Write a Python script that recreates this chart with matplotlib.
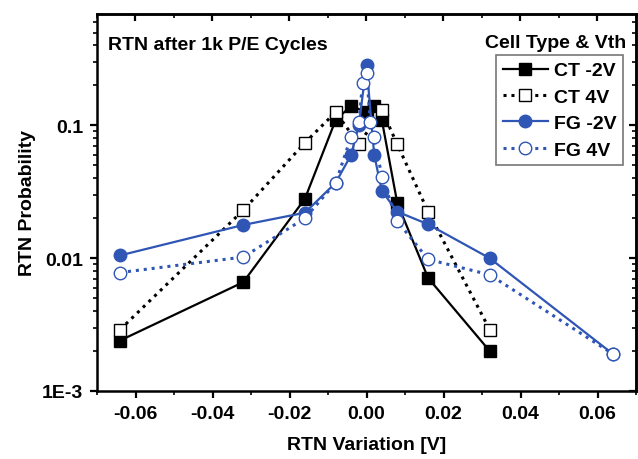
import matplotlib
matplotlib.use("Agg")
import matplotlib.pyplot as plt
from matplotlib.ticker import FixedLocator, LogLocator, NullFormatter

plt.rcParams['font.family'] = ['Liberation Sans', 'DejaVu Sans']
plt.rcParams['font.weight'] = 'bold'

# RTN variation [V] and probability for each cell type / Vth
ct_m2_x = [-0.064, -0.032, -0.016, -0.008, -0.004, 0.0, 0.002, 0.004, 0.008, 0.016, 0.032]
ct_m2_y = [0.0024, 0.0066, 0.028, 0.11, 0.14, 0.126, 0.14, 0.109, 0.026, 0.0071, 0.0020]

ct_4_x = [-0.064, -0.032, -0.016, -0.008, -0.002, 0.004, 0.008, 0.016, 0.032]
ct_4_y = [0.0029, 0.023, 0.074, 0.126, 0.072, 0.13, 0.072, 0.0224, 0.0029]

fg_m2_x = [-0.064, -0.032, -0.016, -0.008, -0.004, -0.002, 0.0, 0.002, 0.004, 0.008, 0.016, 0.032, 0.064]
fg_m2_y = [0.0105, 0.0178, 0.022, 0.037, 0.060, 0.10, 0.285, 0.060, 0.032, 0.0224, 0.018, 0.0100, 0.0019]

fg_4_x = [-0.064, -0.032, -0.016, -0.008, -0.004, -0.002, -0.001, 0.0, 0.001, 0.002, 0.004, 0.008, 0.016, 0.032, 0.064]
fg_4_y = [0.0078, 0.0102, 0.020, 0.037, 0.082, 0.106, 0.21, 0.25, 0.106, 0.082, 0.041, 0.019, 0.0098, 0.0075, 0.0019]

x_ticks = [-0.06, -0.04, -0.02, 0.00, 0.02, 0.04, 0.06]
x_minor = [-0.07, -0.05, -0.03, -0.01, 0.01, 0.03, 0.05, 0.07]
x_tick_labels = ['-0.06', '-0.04', '-0.02', '0.00', '0.02', '0.04', '0.06']
y_ticks = [0.001, 0.01, 0.1]
y_tick_labels = ['1E-3', '0.01', '0.1']

BLUE = '#2f55b5'
FS = 14

fig = plt.figure(figsize=(6.38, 4.60), dpi=100)
ax = fig.add_axes([97 / 638, 1 - 392 / 460, (636 - 97) / 638, (392 - 15) / 460])

lw = 1.6
ms = 8
ax.plot(ct_m2_x, ct_m2_y, '-', color='black', lw=lw, marker='s', ms=ms,
        mfc='black', mec='black', label='CT -2V', zorder=3)
ax.plot(ct_4_x, ct_4_y, linestyle=(0, (1, 1.6)), color='black', lw=2.2, marker='s', ms=ms,
        mfc='white', mec='black', mew=1.0, label='CT 4V', zorder=3)
ax.plot(fg_m2_x, fg_m2_y, '-', color=BLUE, lw=lw, marker='o', ms=ms + 1,
        mfc=BLUE, mec=BLUE, label='FG -2V', zorder=4)
ax.plot(fg_4_x, fg_4_y, linestyle=(0, (1, 1.6)), color=BLUE, lw=2.2, marker='o', ms=ms + 1,
        mfc='white', mec=BLUE, mew=1.0, label='FG 4V', zorder=5)

ax.set_yscale('log')
ax.set_xlim(-0.07, 0.07)
ax.set_ylim(0.001, 0.69)

ax.xaxis.set_major_locator(FixedLocator(x_ticks))
ax.set_xticklabels(x_tick_labels)
ax.xaxis.set_minor_locator(FixedLocator(x_minor))
ax.yaxis.set_major_locator(FixedLocator(y_ticks))
ax.set_yticklabels(y_tick_labels)
ax.yaxis.set_minor_locator(LogLocator(base=10, subs=range(2, 10)))
ax.yaxis.set_minor_formatter(NullFormatter())

ax.tick_params(which='major', direction='out', length=5, width=1.6, labelsize=FS, pad=5)
ax.tick_params(which='minor', direction='out', length=3, width=1.2)

for sp in ax.spines.values():
    sp.set_linewidth(1.8)

# mirrored ticks on the top and right edges
top = ax.secondary_xaxis('top')
top.xaxis.set_major_locator(FixedLocator(x_ticks))
top.xaxis.set_minor_locator(FixedLocator(x_minor))
top.tick_params(which='major', direction='in', length=5, width=1.6, labeltop=False)
top.tick_params(which='minor', direction='in', length=3, width=1.2)
top.spines['top'].set_linewidth(1.8)

right = ax.secondary_yaxis('right')
right.yaxis.set_major_locator(FixedLocator(y_ticks))
right.yaxis.set_minor_locator(LogLocator(base=10, subs=range(2, 10)))
right.yaxis.set_minor_formatter(NullFormatter())
right.tick_params(which='major', direction='in', length=5, width=1.6, labelright=False)
right.tick_params(which='minor', direction='in', length=3, width=1.2)
right.spines['right'].set_linewidth(1.8)

ax.set_xlabel('RTN Variation [V]', fontsize=FS, fontweight='bold', labelpad=10)
ax.set_ylabel('RTN Probability', fontsize=FS, fontweight='bold', labelpad=4)

ax.text(108 / 638, 1 - 45 / 460, 'RTN after 1k P/E Cycles', transform=fig.transFigure,
        fontsize=FS, fontweight='bold', ha='left', va='center')
ax.text(626 / 638, 1 - 43 / 460, 'Cell Type & Vth', transform=fig.transFigure,
        fontsize=FS, fontweight='bold', ha='right', va='center')

leg = ax.legend(loc='upper right', bbox_to_anchor=(623 / 638, 1 - 56 / 460),
                bbox_transform=fig.transFigure, frameon=True, fancybox=False,
                prop={'size': FS, 'weight': 'bold'}, handlelength=2.3, handletextpad=0.3,
                labelspacing=0.45, borderpad=0.35, borderaxespad=0)
leg.get_frame().set_edgecolor('#555555')
leg.get_frame().set_linewidth(1.2)

fig.savefig('out.png', dpi=100)
